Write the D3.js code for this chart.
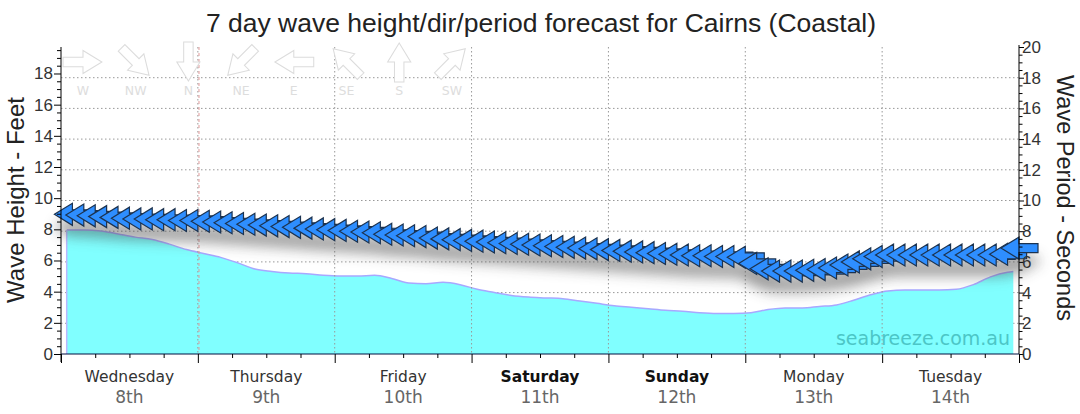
<!DOCTYPE html>
<html>
<head>
<meta charset="utf-8">
<script src="https://cdn.jsdelivr.net/npm/d3@7"></script>
<style>
  body { margin: 0; background: #fff; }
  svg { display: block; }
</style>
</head>
<body>
<div id="chart"></div>
<script>

// dias no eixo x
const days = ["Wednesday", "Thursday", "Friday", "Saturday", "Sunday", "Monday", "Tuesday"];
const dates = ["8th", "9th", "10th", "11th", "12th", "13th", "14th"];
const weekendDays = ["Saturday", "Sunday"];

// altura das ondas (pés), a cada 3 horas
const heightHours = [1, 4, 7, 10, 13, 16, 19, 22, 25, 28, 31, 34, 37, 40, 43, 46, 49, 52, 55, 58,
  61, 64, 67, 70, 73, 76, 79, 82, 85, 88, 91, 94, 97, 100, 103, 106, 109, 112, 115, 118,
  121, 124, 127, 130, 133, 136, 139, 142, 145, 148, 151, 154, 157, 160, 163, 166, 167];
const heightFeet = [7.95, 7.95, 7.9, 7.7, 7.5, 7.35, 7.05, 6.7, 6.45, 6.2, 5.85, 5.45, 5.3, 5.2, 5.15, 5.05, 5.0, 5.0, 5.05, 4.85,
  4.55, 4.5, 4.6, 4.45, 4.15, 3.95, 3.75, 3.65, 3.6, 3.55, 3.4, 3.25, 3.1, 3.0, 2.9, 2.8, 2.75, 2.65, 2.6, 2.6,
  2.65, 2.85, 2.95, 2.95, 3.05, 3.15, 3.45, 3.8, 4.05, 4.1, 4.1, 4.1, 4.15, 4.45, 4.95, 5.25, 5.3];

// período (segundos) e direção, a cada 2 horas
const periodHours = [2, 4, 6, 8, 10, 12, 14, 16, 18, 20, 22, 24, 26, 28, 30, 32, 34, 36, 38, 40,
  42, 44, 46, 48, 50, 52, 54, 56, 58, 60, 62, 64, 66, 68, 70, 72, 74, 76, 78, 80,
  82, 84, 86, 88, 90, 92, 94, 96, 98, 100, 102, 104, 106, 108, 110, 112, 114, 116, 118, 120,
  122, 124, 126, 128, 130, 132, 134, 136, 138, 140, 142, 144, 146, 148, 150, 152, 154, 156, 158, 160,
  162, 164, 166, 168];
const periodSec = [9.1, 9.05, 9.0, 8.95, 8.9, 8.85, 8.8, 8.8, 8.75, 8.75, 8.7, 8.7, 8.65, 8.6, 8.55, 8.5, 8.45, 8.4, 8.35, 8.3,
  8.25, 8.2, 8.15, 8.1, 8.05, 8.0, 7.95, 7.9, 7.8, 7.75, 7.7, 7.65, 7.55, 7.5, 7.45, 7.4, 7.35, 7.3, 7.25, 7.2,
  7.15, 7.1, 7.05, 7.0, 6.95, 6.9, 6.85, 6.8, 6.75, 6.7, 6.65, 6.6, 6.55, 6.5, 6.45, 6.4, 6.4, 6.35, 6.35, 6.3,
  5.9, 5.55, 5.4, 5.4, 5.4, 5.45, 5.5, 5.6, 5.8, 6.0, 6.2, 6.35, 6.45, 6.45, 6.45, 6.45, 6.45, 6.45, 6.45, 6.45,
  6.45, 6.45, 6.5, 6.9];
const directionDeg = periodHours.map(() => 90); // todas de leste (E)

// legenda das direções
const compassNames = ["W", "NW", "N", "NE", "E", "SE", "S", "SW"];
const compassDeg = [270, 315, 0, 45, 90, 135, 180, 225];

const leftTicks = [0, 2, 4, 6, 8, 10, 12, 14, 16, 18];
const rightTicks = [0, 2, 4, 6, 8, 10, 12, 14, 16, 18, 20];
const nowHour = 24.2;

const createChart = () => {

    // dimensões gerais
    var width = 1080,
    height = 414,
    plot = {left: 61, right: 1019, top: 47, bottom: 354};

    var svg = d3.select("#chart")
            .append("svg")
            .attr("width", width)
            .attr("height", height)
            .style("font-family", "'Liberation Sans', Arial, sans-serif");

    var x = d3.scaleLinear().domain([0, 168]).range([plot.left, plot.right]);
    var yLeft = d3.scaleLinear().domain([0, 19.7]).range([plot.bottom, plot.top]);
    var yRight = d3.scaleLinear().domain([0, 20]).range([plot.bottom, plot.top]);

    // filtro da sombra das setas
    var defs = svg.append("defs");
    var f = defs.append("filter").attr("id", "shadow")
        .attr("x", "-10%").attr("y", "-50%").attr("width", "120%").attr("height", "250%");
    f.append("feGaussianBlur").attr("stdDeviation", 7);

    // grade horizontal (segue o eixo da direita)
    svg.append("g")
        .selectAll("line")
        .data(rightTicks.filter(d => d > 0 && d < 20))
        .enter()
        .append("line")
            .attr("x1", plot.left).attr("x2", plot.right)
            .attr("y1", d => yRight(d)).attr("y2", d => yRight(d))
            .style("stroke", "#999")
            .style("stroke-dasharray", "1.5,2.5");

    // área da altura das ondas
    var heightData = heightHours.map((h, i) => ({h: h, v: heightFeet[i]}));
    var area = d3.area()
        .x(d => x(d.h))
        .y0(plot.bottom)
        .y1(d => yLeft(d.v))
        .curve(d3.curveMonotoneX);
    svg.append("path")
        .datum(heightData)
        .attr("d", area)
        .style("fill", "#80ffff");
    svg.append("path")
        .datum(heightData)
        .attr("d", d3.line().x(d => x(d.h)).y(d => yLeft(d.v)).curve(d3.curveMonotoneX))
        .style("fill", "none")
        .style("stroke", "#a8a8ff")
        .style("stroke-width", 1.5);
    svg.append("line")
        .attr("x1", x(heightHours[0])).attr("x2", x(heightHours[0]))
        .attr("y1", yLeft(heightFeet[0])).attr("y2", plot.bottom)
        .style("stroke", "#b8b8ff").style("stroke-width", 1.5);

    // grade vertical nos dias
    svg.append("g")
        .selectAll("line")
        .data(d3.range(1, 7))
        .enter()
        .append("line")
            .attr("x1", d => x(d * 24)).attr("x2", d => x(d * 24))
            .attr("y1", plot.top).attr("y2", plot.bottom)
            .style("stroke", "#999")
            .style("stroke-dasharray", "1.5,2.5");

    // linha do momento atual
    svg.append("line")
        .attr("x1", x(nowHour)).attr("x2", x(nowHour))
        .attr("y1", plot.top).attr("y2", plot.bottom)
        .style("stroke", "#e09a9a")
        .style("stroke-dasharray", "3,3");

    // marca d'água
    svg.append("text")
        .attr("x", 1010).attr("y", 345)
        .attr("text-anchor", "end")
        .style("font-family", "Verdana, 'DejaVu Sans', sans-serif")
        .style("font-size", "19px")
        .style("fill", "#4cc6c6")
        .text("seabreeze.com.au");

    // forma da seta, apontando para a direita
    var arrowPath = "M-19,-4.5L0,-4.5L0,-11L18,0L0,11L0,4.5L-19,4.5Z";

    // legenda das direções
    var legend = svg.append("g");
    compassNames.forEach((name, i) => {
        var cx = 83 + i * 52.7;
        legend.append("path")
            .attr("d", arrowPath)
            .attr("transform", "translate(" + cx + ",62) rotate(" + (compassDeg[i] + 90) + ") scale(1.05)")
            .style("fill", "#fff")
            .style("stroke", "#dcdcdc");
        legend.append("text")
            .attr("x", cx).attr("y", 95)
            .attr("text-anchor", "middle")
            .style("font-family", "Verdana, 'DejaVu Sans', sans-serif")
            .style("font-size", "12.5px")
            .style("fill", "#ddd")
            .text(name);
    });

    var periodData = periodHours.map((h, i) => ({h: h, v: periodSec[i], dir: directionDeg[i]}));

    // sombra das setas
    svg.append("g")
        .attr("filter", "url(#shadow)")
        .attr("opacity", 0.55)
        .selectAll("path")
        .data(periodData)
        .enter()
        .append("path")
            .attr("d", arrowPath)
            .attr("transform", d => "translate(" + x(d.h) + "," + (yRight(d.v) + 13) + ") rotate(" + (d.dir + 90) + ")")
            .style("fill", "#444");

    // setas de direção / período
    svg.append("g")
        .selectAll("path")
        .data(periodData)
        .enter()
        .append("path")
            .attr("d", arrowPath)
            .attr("transform", d => "translate(" + x(d.h) + "," + yRight(d.v) + ") rotate(" + (d.dir + 90) + ")")
            .style("fill", "#2e8eff")
            .style("stroke", "#1c3350")
            .style("stroke-width", 1.2)
            .style("stroke-linejoin", "miter");

    // eixo esquerdo
    var leftAxis = d3.axisLeft(yLeft)
        .tickValues(d3.range(0, 19.6, 0.5))
        .tickSize(4)
        .tickFormat(d => leftTicks.includes(d) ? d : "");
    var gl = svg.append("g")
        .attr("transform", "translate(" + plot.left + ",0)")
        .call(leftAxis);
    gl.select(".domain").attr("d", "M0," + plot.top + "V" + (plot.bottom + 8));
    gl.selectAll(".tick line").attr("x2", d => leftTicks.includes(d) ? -7 : -4);
    gl.selectAll(".tick text").attr("x", -8).style("font-size", "17px").style("fill", "#333")
        .style("font-family", "'Liberation Sans', Arial, sans-serif");

    // eixo direito
    var rightAxis = d3.axisRight(yRight)
        .tickValues(d3.range(0, 20.1, 0.5))
        .tickSize(4)
        .tickFormat(d => rightTicks.includes(d) ? d : "");
    var gr = svg.append("g")
        .attr("transform", "translate(" + plot.right + ",0)")
        .call(rightAxis);
    gr.select(".domain").attr("d", "M0," + (plot.top - 2) + "V" + plot.bottom);
    gr.selectAll(".tick line").attr("x2", d => rightTicks.includes(d) ? 5 : 3.5);
    gr.selectAll(".tick text").attr("x", 3).style("font-size", "17px").style("fill", "#333")
        .style("font-family", "'Liberation Sans', Arial, sans-serif");

    // eixo x
    var gx = svg.append("g")
        .attr("transform", "translate(0," + plot.bottom + ")")
        .call(d3.axisBottom(x).tickValues(d3.range(0, 169, 6)).tickSize(4).tickFormat(""));
    gx.select(".domain").attr("d", "M" + plot.left + ",0H" + plot.right).style("stroke", "#001040");
    gx.selectAll(".tick line").attr("y2", d => d % 24 === 0 ? 9 : 4);

    // rótulos dos dias
    var dayG = svg.append("g")
        .style("font-family", "Verdana, 'DejaVu Sans', sans-serif");
    dayG.selectAll(".day")
        .data(days)
        .enter()
        .append("text")
            .attr("x", (d, i) => x(i * 24 + 12))
            .attr("y", 382)
            .attr("text-anchor", "middle")
            .style("font-size", "15.5px")
            .style("font-weight", d => weekendDays.includes(d) ? "bold" : "normal")
            .style("fill", d => weekendDays.includes(d) ? "#111" : "#333")
            .text(d => d);
    dayG.selectAll(".date")
        .data(dates)
        .enter()
        .append("text")
            .attr("x", (d, i) => x(i * 24 + 12))
            .attr("y", 403)
            .attr("text-anchor", "middle")
            .style("font-size", "17px")
            .style("fill", "#666")
            .text(d => d);

    // títulos
    svg.append("text")
        .attr("x", 541).attr("y", 32)
        .attr("text-anchor", "middle")
        .style("font-size", "26.5px")
        .style("fill", "#222")
        .text("7 day wave height/dir/period forecast for Cairns (Coastal)");

    svg.append("text")
        .attr("transform", "translate(24,200) rotate(-90)")
        .attr("text-anchor", "middle")
        .style("font-size", "24px")
        .style("fill", "#222")
        .text("Wave Height - Feet");

    svg.append("text")
        .attr("transform", "translate(1057,198) rotate(90)")
        .attr("text-anchor", "middle")
        .style("font-size", "23.5px")
        .style("fill", "#222")
        .text("Wave Period - Seconds");

}

createChart();
</script>
</body>
</html>
